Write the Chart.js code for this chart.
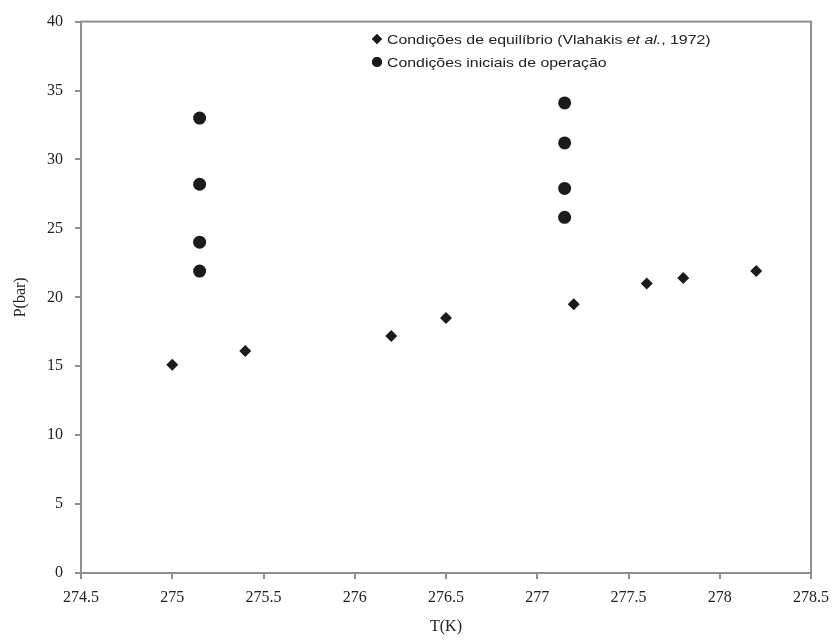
<!DOCTYPE html>
<html>
<head>
<meta charset="utf-8">
<script src="https://cdn.jsdelivr.net/npm/chart.js@4/dist/chart.umd.min.js"></script>
<style>
html,body{margin:0;padding:0;background:#fff;}
#wrap{width:838px;height:640px;}
</style>
</head>
<body>
<div id="wrap"><canvas id="c" width="838" height="640"></canvas></div>
<script>
// Data
const eqT = [275.0, 275.4, 276.2, 276.5, 277.2, 277.6, 277.8, 278.2];
const eqP = [15.1, 16.1, 17.2, 18.5, 19.5, 21.0, 21.4, 21.9];
const opT = [275.15, 275.15, 275.15, 275.15, 277.15, 277.15, 277.15, 277.15];
const opP = [33.0, 28.2, 24.0, 21.9, 34.1, 31.2, 27.9, 25.8];
const xTicks = [274.5, 275, 275.5, 276, 276.5, 277, 277.5, 278, 278.5];
const yTicks = [0, 5, 10, 15, 20, 25, 30, 35, 40];
const legendParts = [
  [["Condições de equilíbrio (Vlahakis ", false], ["et al.", true], [", 1972)", false]],
  [["Condições iniciais de operação", false]]
];
const xTitle = "T(K)";
const yTitle = "P(bar)";

const INK = '#1b1b1b';
const AXIS = '#8f8f8f';

const framePlugin = {
  id: 'frame',
  afterDraw(chart) {
    const a = chart.chartArea, ctx = chart.ctx;
    ctx.save();
    ctx.strokeStyle = AXIS;
    ctx.lineWidth = 2;
    ctx.strokeRect(a.left, a.top, a.right - a.left, a.bottom - a.top);
    // custom legend with italic segment
    const lx = 377, ly = [39, 62];
    const styles = ['rectRot', 'circle'];
    const radii = [5, 5];
    const sx = 1.22;
    for (let i = 0; i < 2; i++) {
      Chart.helpers.drawPoint(ctx, {pointStyle: styles[i], radius: radii[i], borderWidth: 0}, lx, ly[i]);
      ctx.fillStyle = INK;
      ctx.fill();
      let x = 0;
      ctx.save();
      ctx.translate(lx + 10, ly[i] + 1);
      ctx.scale(sx, 1);
      ctx.textBaseline = 'middle';
      ctx.textAlign = 'left';
      for (const [t, it] of legendParts[i]) {
        ctx.font = (it ? 'italic ' : '') + '13px "Liberation Sans", Arial, sans-serif';
        ctx.fillStyle = '#222';
        ctx.fillText(t, x, 0);
        x += ctx.measureText(t).width;
      }
      ctx.restore();
    }
    ctx.restore();
  }
};

const serif = '"Liberation Serif", "Times New Roman", serif';

new Chart(document.getElementById('c'), {
  type: 'scatter',
  data: {
    datasets: [
      {
        label: 'Condições de equilíbrio (Vlahakis et al., 1972)',
        data: eqT.map((t, i) => ({x: t, y: eqP[i]})),
        pointStyle: 'rectRot',
        pointRadius: 6,
        pointHoverRadius: 6,
        backgroundColor: INK,
        borderColor: INK,
        borderWidth: 0
      },
      {
        label: 'Condições iniciais de operação',
        data: opT.map((t, i) => ({x: t, y: opP[i]})),
        pointStyle: 'circle',
        pointRadius: 6.5,
        pointHoverRadius: 6.5,
        backgroundColor: INK,
        borderColor: INK,
        borderWidth: 0
      }
    ]
  },
  options: {
    responsive: false,
    animation: false,
    devicePixelRatio: 1,
    layout: {padding: {left: 0, right: 27, top: 15, bottom: 0}},
    plugins: {
      legend: {display: false},
      tooltip: {enabled: false}
    },
    scales: {
      x: {
        type: 'linear',
        min: 274.5, max: 278.5,
        afterBuildTicks(s) { s.ticks = xTicks.map(v => ({value: v})); },
        afterFit(s) { s.height = 67; },
        grid: {display: true, drawOnChartArea: false, drawTicks: true, tickLength: 6, color: AXIS, lineWidth: 2},
        border: {display: true, color: AXIS, width: 2},
        ticks: {color: '#222', font: {family: serif, size: 16}, padding: 9, maxRotation: 0,
          callback: v => String(v)},
        title: {display: true, text: xTitle, color: '#222', font: {family: serif, size: 16}, padding: {top: 2, bottom: 4}}
      },
      y: {
        type: 'linear',
        min: 0, max: 40,
        afterBuildTicks(s) { s.ticks = yTicks.map(v => ({value: v})); },
        afterFit(s) { s.width = 81; },
        grid: {display: true, drawOnChartArea: false, drawTicks: true, tickLength: 6, color: AXIS, lineWidth: 2},
        border: {display: true, color: AXIS, width: 2},
        ticks: {color: '#222', font: {family: serif, size: 16}, padding: 12},
        title: {display: true, text: yTitle, color: '#222', font: {family: serif, size: 16}, padding: {top: 11, bottom: 0}}
      }
    }
  },
  plugins: [framePlugin]
});
</script>
</body>
</html>
